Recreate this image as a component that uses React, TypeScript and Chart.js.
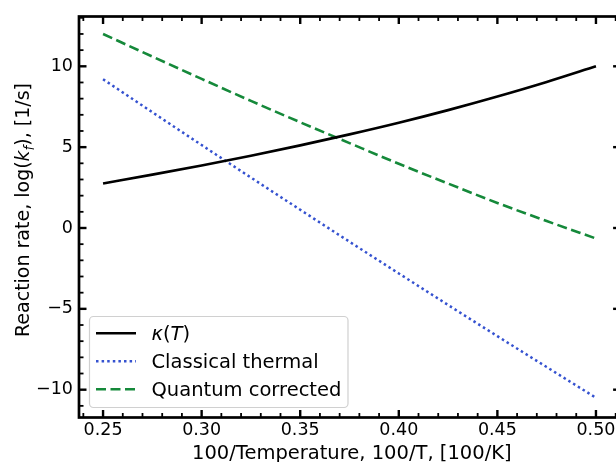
import React, { useEffect, useRef } from "react";
import { Chart, registerables } from "chart.js";

Chart.register(...registerables);

// ---- data ----
const xValues = [0.25, 0.275, 0.3, 0.325, 0.35, 0.375, 0.4, 0.425, 0.45, 0.475, 0.5];
const kappaValues = [2.75, 3.3, 3.87, 4.47, 5.11, 5.79, 6.51, 7.29, 8.13, 9.03, 10.0];
const classicalValues = [9.2, 7.16, 5.13, 3.12, 1.13, -0.85, -2.81, -4.76, -6.69, -8.6, -10.5];
const quantumValues = [12.0, 10.6, 9.22, 7.86, 6.54, 5.25, 3.97, 2.75, 1.55, 0.43, -0.65];
const seriesLabels = ["κ(T)", "Classical thermal", "Quantum corrected"];
const xTickValues = [0.25, 0.3, 0.35, 0.4, 0.45, 0.5];
const yTickValues = [-10, -5, 0, 5, 10];
const xTitle = "100/Temperature, 100/T, [100/K]";

const FONT = "'DejaVu Sans', sans-serif";
const X_MIN = 0.2378;
const X_MAX = 0.5125;
const Y_MIN = -11.72;
const Y_MAX = 13.08;
const X_MINOR_STEP = 0.01;
const Y_MINOR_STEP = 1;

type Run = { t: string; italic?: boolean; sub?: boolean };

function drawRuns(ctx: CanvasRenderingContext2D, runs: Run[], size: number, x: number, y: number, center: boolean) {
  const fontFor = (r: Run) => `${r.italic ? "italic " : ""}${r.sub ? size * 0.7 : size}px ${FONT}`;
  let total = 0;
  for (const r of runs) {
    ctx.font = fontFor(r);
    total += ctx.measureText(r.t).width;
  }
  let cx = center ? x - total / 2 : x;
  ctx.textAlign = "left";
  ctx.textBaseline = "alphabetic";
  for (const r of runs) {
    ctx.font = fontFor(r);
    ctx.fillText(r.t, cx, r.sub ? y + size * 0.22 : y);
    cx += ctx.measureText(r.t).width;
  }
}

function labelRuns(label: string): Run[] {
  if (label === "κ(T)") {
    return [{ t: "κ", italic: true }, { t: "(" }, { t: "T", italic: true }, { t: ")" }];
  }
  return [{ t: label }];
}

const decorPlugin = {
  id: "decor",
  afterDraw(chart: any) {
    const { ctx, chartArea: a, scales } = chart;
    const xs = scales.x;
    const ys = scales.y;
    ctx.save();
    ctx.strokeStyle = "#000";
    ctx.lineCap = "butt";
    const MAJ = 7.5;
    const MIN = 4.5;
    const tick = (x1: number, y1: number, x2: number, y2: number, w: number) => {
      ctx.lineWidth = w;
      ctx.beginPath();
      ctx.moveTo(x1, y1);
      ctx.lineTo(x2, y2);
      ctx.stroke();
    };
    const xStart = Math.ceil(X_MIN / X_MINOR_STEP);
    const xEnd = Math.floor(X_MAX / X_MINOR_STEP);
    for (let i = xStart; i <= xEnd; i++) {
      const v = i * X_MINOR_STEP;
      const isMajor = xTickValues.some((t) => Math.abs(t - v) < 1e-6);
      const px = xs.getPixelForValue(v);
      const len = isMajor ? MAJ : MIN;
      const w = isMajor ? 2.4 : 1.8;
      tick(px, a.bottom, px, a.bottom - len, w);
      tick(px, a.top, px, a.top + len, w);
    }
    const yStart = Math.ceil(Y_MIN / Y_MINOR_STEP);
    const yEnd = Math.floor(Y_MAX / Y_MINOR_STEP);
    for (let i = yStart; i <= yEnd; i++) {
      const v = i * Y_MINOR_STEP;
      const isMajor = yTickValues.includes(v);
      const py = ys.getPixelForValue(v);
      const len = isMajor ? MAJ : MIN;
      const w = isMajor ? 2.4 : 1.8;
      tick(a.left, py, a.left + len, py, w);
      tick(a.right, py, a.right - len, py, w);
    }
    ctx.lineWidth = 2.7;
    ctx.strokeRect(a.left, a.top, a.right - a.left, a.bottom - a.top);

    // legend
    const bx = a.left + 10.5;
    const bw = 258.5;
    const bh = 91;
    const by = a.bottom - 10 - bh;
    ctx.beginPath();
    (ctx as any).roundRect(bx, by, bw, bh, 4);
    ctx.fillStyle = "rgba(255,255,255,0.8)";
    ctx.fill();
    ctx.lineWidth = 1.2;
    ctx.strokeStyle = "#d0d0d0";
    ctx.stroke();
    const ds = chart.data.datasets;
    ds.forEach((d: any, i: number) => {
      const ry = by + 16.8 + i * 28;
      ctx.save();
      ctx.strokeStyle = d.borderColor;
      ctx.lineWidth = d.borderWidth;
      ctx.setLineDash(d.borderDash || []);
      ctx.beginPath();
      ctx.moveTo(bx + 6.5, ry);
      ctx.lineTo(bx + 46.5, ry);
      ctx.stroke();
      ctx.restore();
      ctx.fillStyle = "#000";
      drawRuns(ctx, labelRuns(d.label), 19.5, bx + 62, ry + 7, false);
    });

    // x title
    ctx.fillStyle = "#000";
    drawRuns(ctx, [{ t: xTitle }], 19.5, (a.left + a.right) / 2 + 2, 459, true);

    // y title
    ctx.save();
    ctx.translate(29.4, (a.top + a.bottom) / 2 - 7);
    ctx.rotate(-Math.PI / 2);
    drawRuns(
      ctx,
      [
        { t: "Reaction rate, log(" },
        { t: "k", italic: true },
        { t: "f", italic: true, sub: true },
        { t: "), [1/s]" },
      ],
      19,
      0,
      0,
      true
    );
    ctx.restore();
    ctx.restore();
  },
};

export default function App() {
  const ref = useRef<HTMLCanvasElement | null>(null);
  useEffect(() => {
    if (!ref.current) return;
    const mk = (ys: number[]) => xValues.map((x, i) => ({ x, y: ys[i] }));
    const chart = new Chart(ref.current, {
      type: "line",
      data: {
        datasets: [
          {
            label: seriesLabels[0],
            data: mk(kappaValues),
            borderColor: "#000000",
            borderWidth: 2.6,
            pointRadius: 0,
            cubicInterpolationMode: "monotone",
            fill: false,
          },
          {
            label: seriesLabels[1],
            data: mk(classicalValues),
            borderColor: "#3552d0",
            borderWidth: 2.5,
            borderDash: [2.5, 3.1],
            pointRadius: 0,
            cubicInterpolationMode: "monotone",
            fill: false,
          },
          {
            label: seriesLabels[2],
            data: mk(quantumValues),
            borderColor: "#15893a",
            borderWidth: 2.6,
            borderDash: [10, 4.5],
            pointRadius: 0,
            cubicInterpolationMode: "monotone",
            fill: false,
          },
        ],
      },
      options: {
        responsive: false,
        animation: false,
        layout: { padding: { top: 13.3, right: 9.4, left: 0, bottom: 0 } },
        plugins: { legend: { display: false }, tooltip: { enabled: false } },
        scales: {
          x: {
            type: "linear",
            min: X_MIN,
            max: X_MAX,
            grid: { display: false, drawTicks: false },
            border: { display: false },
            afterBuildTicks: (s: any) => {
              s.ticks = xTickValues.map((v) => ({ value: v }));
            },
            afterFit: (s: any) => {
              s.height = 44.5;
            },
            ticks: {
              padding: 2,
              color: "#000",
              font: { family: FONT, size: 17.5 },
              maxRotation: 0,
              autoSkip: false,
              callback: (v: any) => Number(v).toFixed(2),
            },
          },
          y: {
            type: "linear",
            min: Y_MIN,
            max: Y_MAX,
            grid: { display: false, drawTicks: false },
            border: { display: false },
            afterBuildTicks: (s: any) => {
              s.ticks = yTickValues.map((v) => ({ value: v }));
            },
            afterFit: (s: any) => {
              s.width = 79;
            },
            ticks: {
              padding: 6,
              color: "#000",
              font: { family: FONT, size: 17.5 },
              autoSkip: false,
              callback: (v: any) => (Number(v) < 0 ? "\u2212" + Math.abs(Number(v)) : String(v)),
            },
          },
        },
      },
      plugins: [decorPlugin],
    } as any);
    return () => chart.destroy();
  }, []);
  return (
    <div
      style={{
        position: "fixed",
        left: 0,
        top: 0,
        width: 616,
        height: 462,
        overflow: "hidden",
        background: "#fff",
      }}
    >
      <canvas ref={ref} width={630} height={462} style={{ display: "block", width: 630, height: 462 }} />
    </div>
  );
}
